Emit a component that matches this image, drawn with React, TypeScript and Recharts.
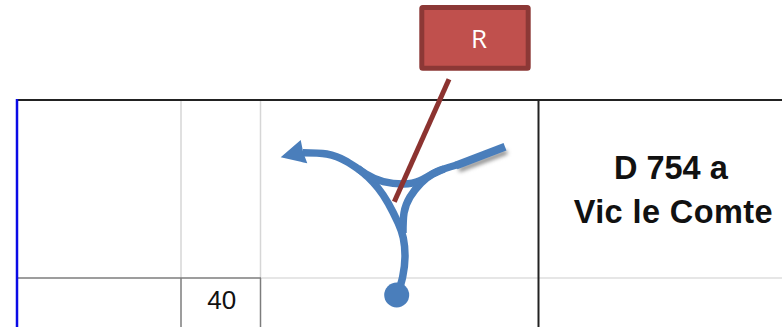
import { ComposedChart, Line, Area, XAxis, YAxis, ReferenceArea, ReferenceDot } from 'recharts'

type Pt = [number, number]

// everything in its own pixel units
const topRule: Pt[] = [[16, 100], [782, 100]]
const blueRule: Pt[] = [[17, 99], [17, 327]]
const lightCol1: Pt[] = [[181, 100], [181, 278]]
const lightCol2: Pt[] = [[260.5, 100], [260.5, 278]]
const darkCol: Pt[] = [[538.5, 100], [538.5, 327]]
const lightRow: Pt[] = [[260, 278], [782, 278]]
const cellTop: Pt[] = [[18, 278], [261, 278]]
const cellLeft: Pt[] = [[181, 278], [181, 327]]
const cellRight: Pt[] = [[260.5, 278], [260.5, 327]]

const mainCurve: Pt[] = [
  [303, 152.7], [326.7, 154], [346.7, 161.5], [366.7, 174.5], [383.3, 181.7],
  [403.3, 184], [420, 180.7], [436.7, 171.7], [456.7, 165],
]
const rightArm: Pt[] = [[456, 165.5], [505, 146.7]]
const armShadow: Pt[] = [[459, 170], [507, 152]]
const leftBranch: Pt[] = [
  [358, 168.5], [368, 177], [378, 188], [388.3, 203.3], [398.3, 223.3], [403.3, 238],
  [405, 256.7], [402.7, 276.7], [398, 293],
]
const rightBranch: Pt[] = [
  [444, 169], [432, 174.5], [421, 183], [410, 197], [404, 213], [403, 233],
]
const redLeader: Pt[] = [[449, 79.3], [394.3, 201.7]]

// arrow head as [x, upper, lower]
const arrowX = [280.7, 300.7, 303.3, 307.3]
const arrowTop = [157.3, 140, 152.7, 163.3]
const arrowBottom = [157.3, 161.8, 162.4, 163.3]

const endDot = { x: 396.7, y: 295 }
const box = { x1: 421.8, x2: 528.2, y1: 7.5, y2: 68.2 }

const BLUE = '#4a7ebb'
const RED_DARK = '#8c3836'

const toRows = (pts: Pt[]) => pts.map(([x, y]) => ({ x, y }))
const arrowRows = arrowX.map((x, i) => ({ x, range: [arrowTop[i], arrowBottom[i]] }))

function rule(key: string, pts: Pt[], stroke: string, width: number, extra: any = {}) {
  return (
    <Line
      key={key}
      data={toRows(pts)}
      dataKey="y"
      type="linear"
      stroke={stroke}
      strokeWidth={width}
      dot={false}
      activeDot={false}
      legendType="none"
      isAnimationActive={false}
      {...extra}
    />
  )
}

function word(text: string, x: number, y: number, size: number, color: string, family: string, weight = 400, spacing = 0) {
  return (
    <ReferenceDot
      key={text}
      x={x}
      y={y}
      r={0}
      ifOverflow="visible"
      shape={(p: any) => (
        <text
          x={p.cx}
          y={p.cy}
          textAnchor="middle"
          fontSize={size}
          fontFamily={family}
          fontWeight={weight}
          letterSpacing={spacing}
          fill={color}
        >
          {text}
        </text>
      )}
    />
  )
}

export default function App() {
  return (
    <div style={{ width: 782, height: 327, background: '#fff' }}>
      <style>{'body{margin:0}'}</style>
      <ComposedChart width={782} height={327} margin={{ top: 0, right: 0, bottom: 0, left: 0 }}>
        <XAxis type="number" dataKey="x" domain={[0, 782]} hide allowDataOverflow />
        <YAxis type="number" domain={[0, 327]} reversed hide allowDataOverflow width={0} />

        {rule('lightCol1', lightCol1, '#d6d6d6', 1.5)}
        {rule('lightCol2', lightCol2, '#d6d6d6', 1.5)}
        {rule('lightRow', lightRow, '#dedede', 1.5)}
        {rule('cellTop', cellTop, '#7c7c7c', 1.5)}
        {rule('cellLeft', cellLeft, '#7c7c7c', 1.5)}
        {rule('cellRight', cellRight, '#7c7c7c', 1.5)}
        {rule('darkCol', darkCol, '#222222', 2)}
        {rule('topRule', topRule, '#222222', 2)}
        {rule('blueRule', blueRule, '#0a0ae6', 2.5)}

        {rule('armShadow', armShadow, '#6f6f6f', 4, { style: { filter: 'blur(2px)' } })}
        {rule('leftBranch', leftBranch, BLUE, 7.5, { type: 'natural' })}
        {rule('rightBranch', rightBranch, BLUE, 7.5, { type: 'natural' })}
        {rule('mainCurve', mainCurve, BLUE, 7.5, { type: 'natural' })}
        {rule('rightArm', rightArm, BLUE, 8)}
        <Area
          data={arrowRows}
          dataKey="range"
          type="linear"
          fill={BLUE}
          fillOpacity={1}
          stroke="none"
          dot={false}
          activeDot={false}
          isAnimationActive={false}
        />
        <ReferenceDot x={endDot.x} y={endDot.y} r={12.5} fill={BLUE} stroke="none" ifOverflow="visible" />

        {rule('redLeader', redLeader, '#8c3330', 5)}
        <ReferenceArea {...box} fill="#c0504d" fillOpacity={1} stroke={RED_DARK} strokeWidth={5} radius={1} ifOverflow="visible" />

        {word('R', 479, 48, 26, '#ffffff', '"Open Sans", sans-serif')}
        {word('40', 221.7, 309.3, 26, '#111111', '"Liberation Sans", Arial, sans-serif')}
        {word('D 754 a', 670.8, 179.3, 32.5, '#111111', '"Liberation Sans", Arial, sans-serif', 700)}
        {word('Vic le Comte', 673.3, 223.3, 32.5, '#111111', '"Liberation Sans", Arial, sans-serif', 700, 0.4)}
      </ComposedChart>
    </div>
  )
}
